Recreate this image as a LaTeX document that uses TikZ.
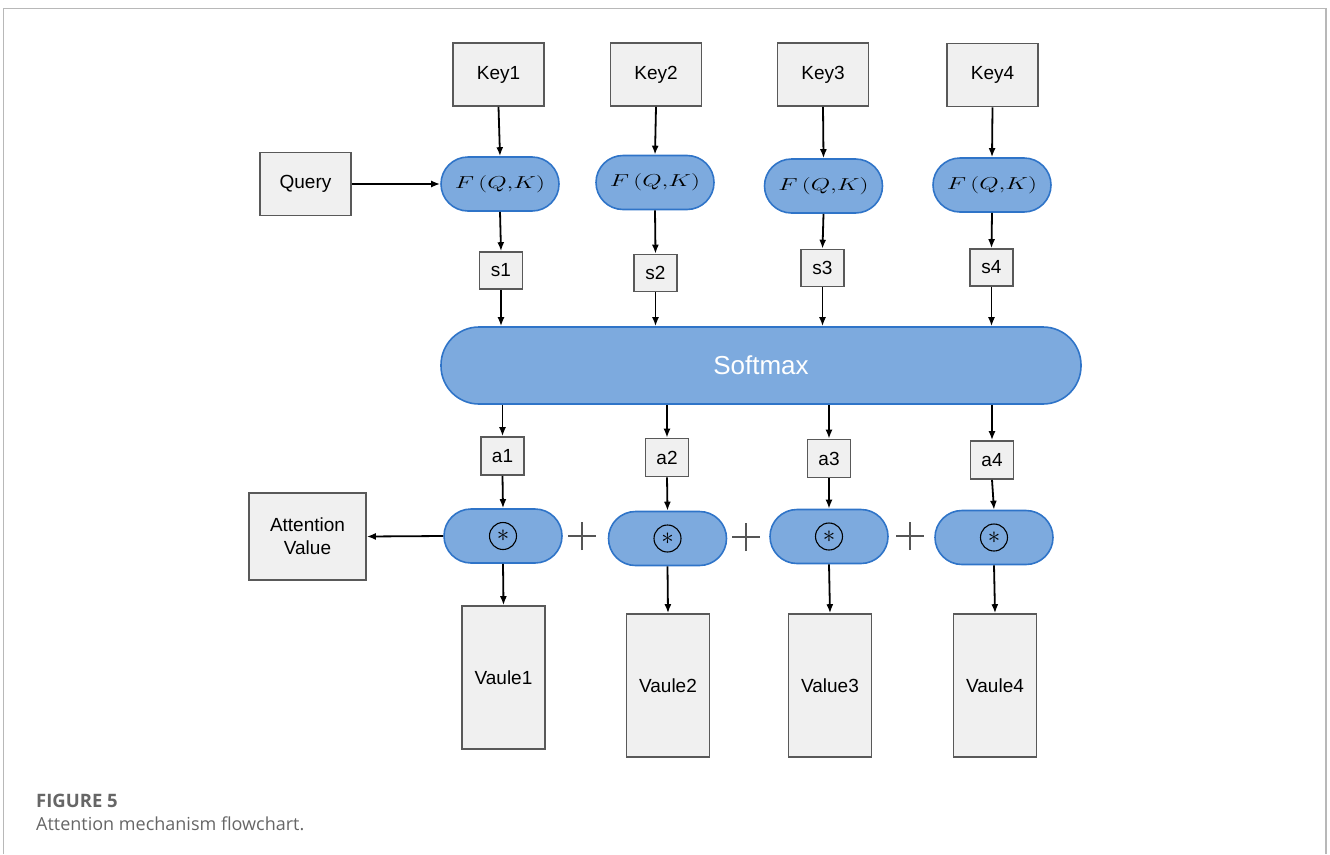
\documentclass[tikz,border=0pt]{standalone}
\usepackage{amsmath,amssymb}
\usepackage{fontspec}
\setmainfont{Liberation Sans}
\newfontfamily\capfont{Open Sans}
\usetikzlibrary{arrows.meta}
\definecolor{boxfill}{HTML}{F0F0F0}
\definecolor{boxline}{HTML}{595959}
\definecolor{bluefill}{HTML}{7DAADE}
\definecolor{blueline}{HTML}{2F74C8}
\definecolor{framec}{HTML}{B8B8B8}
\definecolor{capc}{HTML}{666666}
\definecolor{plusc}{HTML}{555555}
\tikzset{
  graybox/.style={draw=boxline, fill=boxfill, line width=1.6pt, inner sep=0pt,
    font=\fontsize{19}{23}\selectfont, align=center},
  keybox/.style={graybox, minimum width=91pt, minimum height=63pt},
  smallbox/.style={graybox, minimum width=43pt, minimum height=37pt},
  valbox/.style={graybox, minimum width=83pt, minimum height=143pt},
  pill/.style={draw=blueline, fill=bluefill, line width=1.6pt, inner sep=0pt,
    minimum width=118pt, minimum height=54pt, rounded corners=27pt},
  ftext/.style={pill, font=\fontsize{17}{19}\selectfont},
  odot/.style={circle, draw=black, line width=1.1pt, inner sep=0pt, minimum size=27pt,
    font=\fontsize{26}{26}\selectfont},
  arr/.style={line width=1.8pt, -{Latex[length=9pt,width=7pt]}},
  plusline/.style={draw=plusc, line width=1.2pt},
}
\newcommand{\fqk}{\scalebox{1.45}[1]{$F\,(Q{,}K)$}}
\begin{document}
\begin{tikzpicture}[x=1pt,y=-1pt]
\useasboundingbox (0,0) rectangle (1330,854);
\draw[framec, line width=1.3pt] (3.5,854) -- (3.5,8.5) -- (1326,8.5) -- (1326,854);

% keys
\node[keybox] (K1) at (498.5,74.5) {Key1};
\node[keybox] (K2) at (656,74.5) {Key2};
\node[keybox] (K3) at (823,74.5) {Key3};
\node[keybox] (K4) at (992.5,75) {Key4};

% query
\node[keybox] (Q) at (305.5,184) {Query};

% F(Q,K)
\node[ftext] (F1) at (500,184) {\fqk};
\node[ftext] (F2) at (655,182.5) {\fqk};
\node[ftext] (F3) at (823.5,186) {\fqk};
\node[ftext] (F4) at (992,185) {\fqk};

% scores
\node[smallbox] (S1) at (501,270.5) {s1};
\node[smallbox] (S2) at (655.5,273) {s2};
\node[smallbox] (S3) at (822.5,268) {s3};
\node[smallbox] (S4) at (991.5,267.5) {s4};

% softmax
\node[pill, minimum width=640pt, minimum height=77pt, rounded corners=38pt,
  text=white, font=\fontsize{26}{30}\selectfont] (SM) at (761,365.5) {Softmax};

% weights
\node[smallbox, minimum height=38pt] (A1) at (502.5,456) {a1};
\node[smallbox, minimum height=38pt] (A2) at (667,457.5) {a2};
\node[smallbox, minimum height=38pt] (A3) at (829,458.5) {a3};
\node[smallbox, minimum height=38pt] (A4) at (992,460) {a4};

% multiply pills
\node[pill] (M1) at (503,536) {};
\node[pill] (M2) at (667.5,538.5) {};
\node[pill] (M3) at (829,536.5) {};
\node[pill] (M4) at (994,537.5) {};
\node[odot] (C1) at (M1) {$\ast$};
\node[odot] (C2) at (M2) {$\ast$};
\node[odot] (C3) at (M3) {$\ast$};
\node[odot] (C4) at (M4) {$\ast$};

% attention value
\node[graybox, minimum width=117pt, minimum height=87pt] (AV) at (307.5,536.5) {Attention\\Value};

% values
\node[valbox] (V1) at (503.5,677.5) {Vaule1};
\node[valbox] (V2) at (668,685.5) {Vaule2};
\node[valbox] (V3) at (830,685.5) {Value3};
\node[valbox] (V4) at (995,685.5) {Vaule4};

% plus signs
\coordinate (P1) at (582,536);
\coordinate (P2) at (746,537);
\coordinate (P3) at (910,536);
\foreach \p in {P1,P2,P3}{
  \draw[plusline] ([xshift=-14pt]\p) -- ([xshift=14pt]\p);
  \draw[plusline] ([yshift=-14pt]\p) -- ([yshift=14pt]\p);
}

% arrows
\foreach \i in {1,2,3,4}{
  \draw[arr] (K\i.south) -- (F\i.north);
  \draw[arr] (F\i.south) -- (S\i.north);
  \draw[arr] (S\i.south) -- (S\i.south |- SM.north);
  \draw[arr] (A\i.north |- SM.south) -- (A\i.north);
  \draw[arr] (A\i.south) -- (M\i.north);
  \draw[arr] (M\i.south) -- (V\i.north);
}
\draw[arr] (Q.east) -- (F1.west);
\draw[arr] (M1.west) -- (AV.east);

% caption
\node[anchor=base west, inner sep=0pt, text=capc, font=\capfont\bfseries\fontsize{18.5}{21}\selectfont] (cap1) at (36,807) {FIGURE 5};
\node[anchor=base west, inner sep=0pt, text=capc, font=\capfont\fontsize{18}{21}\selectfont] (cap2) at (36,830) {Attention mechanism flowchart.};
\end{tikzpicture}
\end{document}
